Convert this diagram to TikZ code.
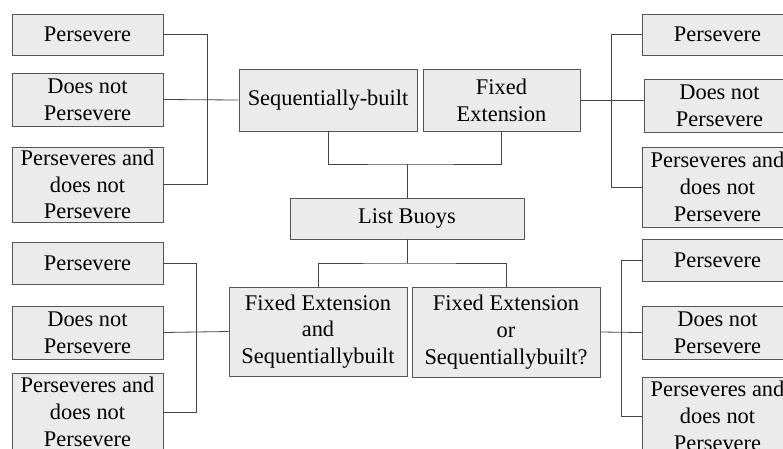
\documentclass[tikz,border=0pt]{standalone}
\usepackage{fontspec}
\setmainfont{Liberation Serif}
\definecolor{boxfill}{HTML}{EBEBEB}
\definecolor{boxline}{HTML}{555555}
\definecolor{wire}{HTML}{454545}
\begin{document}
\begin{tikzpicture}[x=1pt,y=-1pt,
  box/.style={draw=boxline, fill=boxfill, line width=0.8pt, inner sep=0pt,
    align=center, font=\fontsize{22.4}{26.7}\selectfont},
  wirestyle/.style={draw=wire, line width=0.8pt}]
\useasboundingbox (0,0) rectangle (783,448);
\clip (0,0) rectangle (783,448);

% central tree
\node[box, minimum width=178, minimum height=62] (SB) at (328,100) {Sequentially-built};
\node[box, minimum width=157, minimum height=62] (FE) at (501.5,100) {Fixed\\Extension};
\node[box, minimum width=234, minimum height=41] (LB) at (407,218.5) {List Buoys};
\node[box, minimum width=178, minimum height=89] (FEaS) at (318,331.5) {Fixed Extension\\and\\Sequentiallybuilt};
\node[box, minimum width=188, minimum height=90] (FEoS) at (506,332) {Fixed Extension\\or\\Sequentiallybuilt?};

% top left leaves
\node[box, minimum width=151, minimum height=41] (L1) at (87.5,34.5) {Persevere};
\node[box, minimum width=151, minimum height=53] (L2) at (87.5,99.5) {Does not\\Persevere};
\node[box, minimum width=151, minimum height=75] (L3) at (87.5,184.5) {Perseveres and\\does not\\Persevere};

% top right leaves
\node[box, minimum width=151, minimum height=41] (R1) at (717.5,34.5) {Persevere};
\node[box, minimum width=151, minimum height=53] (R2) at (719.5,105.5) {Does not\\Persevere};
\node[box, minimum width=151, minimum height=80] (R3) at (717.5,187) {Perseveres and\\does not\\Persevere};

% bottom left leaves
\node[box, minimum width=151, minimum height=42] (BL1) at (87.5,263) {Persevere};
\node[box, minimum width=151, minimum height=53] (BL2) at (87.5,332.5) {Does not\\Persevere};
\node[box, minimum width=151, minimum height=78] (BL3) at (87.5,412) {Perseveres and\\does not\\Persevere};

% bottom right leaves
\node[box, minimum width=151, minimum height=42] (BR1) at (717.5,260) {Persevere};
\node[box, minimum width=151, minimum height=53] (BR2) at (717.5,332.5) {Does not\\Persevere};
\node[box, minimum width=151, minimum height=78] (BR3) at (717.5,416) {Perseveres and\\does not\\Persevere};

% junction points
\coordinate (jt) at (407,164);
\coordinate (jb) at (407,263);
\coordinate (bTL) at (207,0);
\coordinate (bTR) at (611,0);
\coordinate (bBL) at (196,0);
\coordinate (bBR) at (621,0);

% trunk connectors
\draw[wirestyle] (SB.south) |- (jt) -| (FE.south);
\draw[wirestyle] (jt) -- (LB.north);
\draw[wirestyle] (LB.south) -- (jb);
\draw[wirestyle] (FEaS.north) |- (jb) -| (FEoS.north);

% top left bracket
\draw[wirestyle] (L1.east) -| (bTL |- L3.east) -- (L3.east);
\draw[wirestyle] (L2.east) -- (SB.west);

% top right bracket
\draw[wirestyle] (R1.west) -| (bTR |- R3.west) -- (R3.west);
\draw[wirestyle] (FE.east) -- (FE.east -| R2.west);

% bottom left bracket
\draw[wirestyle] (BL1.east) -| (bBL |- BL3.east) -- (BL3.east);
\draw[wirestyle] (BL2.east) -- (FEaS.west);

% bottom right bracket
\draw[wirestyle] (BR1.west) -| (bBR |- BR3.west) -- (BR3.west);
\draw[wirestyle] (FEoS.east) -- (BR2.west);
\end{tikzpicture}
\end{document}
